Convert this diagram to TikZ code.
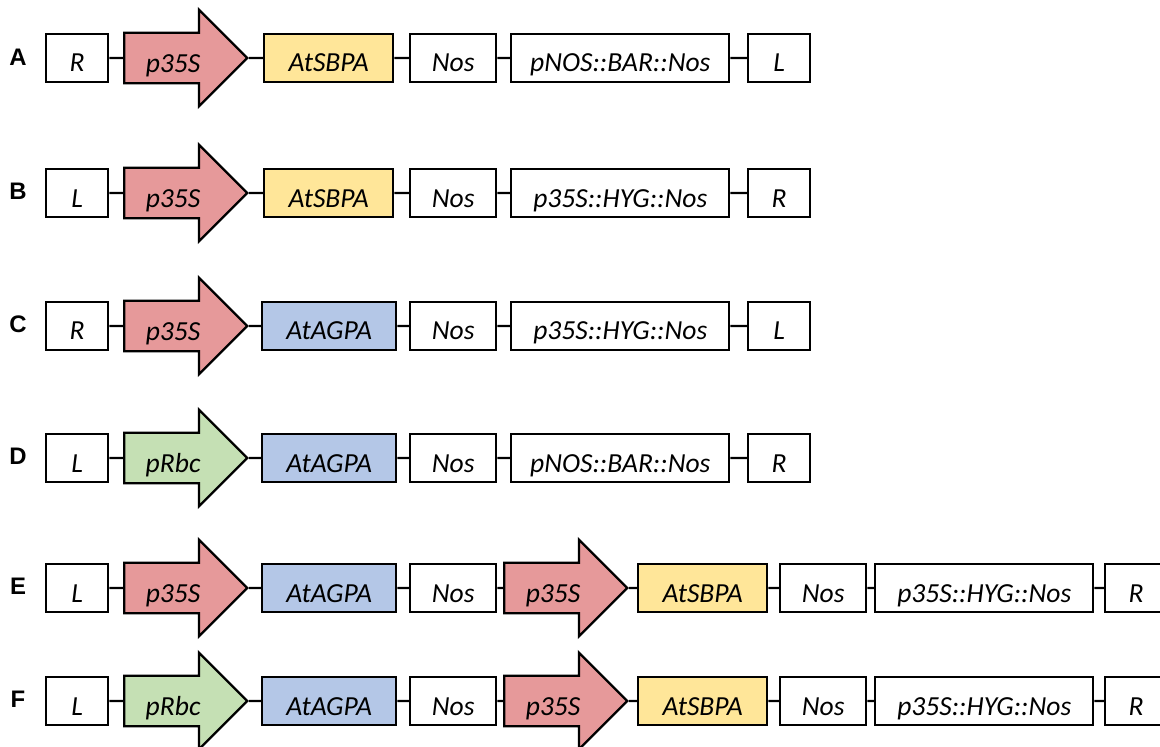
\documentclass[tikz,border=0pt]{standalone}
\usepackage{fontspec}
\setmainfont{Carlito}
\newfontfamily\tagfont{Liberation Sans}
\usetikzlibrary{shapes.arrows}
\definecolor{gnpink}{HTML}{E6999A}
\definecolor{gngreen}{HTML}{C5E0B4}
\definecolor{gnyellow}{HTML}{FFE699}
\definecolor{gnblue}{HTML}{B4C7E7}

\begin{document}
\begin{tikzpicture}[x=0.025cm, y=-0.025cm,
  part/.style={draw, line width=1.7pt, anchor=west, minimum height=1.2cm, inner sep=0pt,
               text height=0.95cm, text depth=0.25cm, font=\fontsize{19.6}{23}\selectfont\itshape},
  flank/.style={part, minimum width=1.55cm},
  term/.style={part, minimum width=2.15cm},
  sbpa/.style={part, fill=gnyellow, minimum width=3.225cm},
  agpa/.style={part, fill=gnblue, minimum width=3.35cm},
  cassette/.style={part, minimum width=5.45cm},
  promoter/.style={part, single arrow, single arrow head extend=0.575cm, single arrow tip angle=90,
                   minimum width=2.35cm, minimum height=3.075cm},
  tag/.style={font=\tagfont\bfseries\fontsize{17}{20}\selectfont},
  link/.style={line width=1.6pt}]
  \useasboundingbox (0,0) rectangle (1160,747);
  \clip (0,0) rectangle (1160,747);

  % A
  \node[tag] (tA) at (18,57) {A};
  \node[flank] (a1) at (45,58) {R};
  \node[promoter, fill=gnpink] (a2) at (123,58) {p35S};
  \node[sbpa] (a3) at (263,58) {AtSBPA};
  \node[term] (a4) at (409,58) {Nos};
  \node[cassette] (a5) at (510,58) {pNOS::BAR::Nos};
  \node[flank] (a6) at (747,58) {L};
  \draw[link] (a1.east) -- (a2.west) (a2.east) -- (a3.west) (a3.east) -- (a4.west)
              (a4.east) -- (a5.west) (a5.east) -- (a6.west);

  % B
  \node[tag] (tB) at (18,191) {B};
  \node[flank] (b1) at (45,193) {L};
  \node[promoter, fill=gnpink] (b2) at (123,193) {p35S};
  \node[sbpa] (b3) at (263,193) {AtSBPA};
  \node[term] (b4) at (409,193) {Nos};
  \node[cassette] (b5) at (510,193) {p35S::HYG::Nos};
  \node[flank] (b6) at (747,193) {R};
  \draw[link] (b1.east) -- (b2.west) (b2.east) -- (b3.west) (b3.east) -- (b4.west)
              (b4.east) -- (b5.west) (b5.east) -- (b6.west);

  % C
  \node[tag] (tC) at (18,324) {C};
  \node[flank] (c1) at (45,326) {R};
  \node[promoter, fill=gnpink] (c2) at (123,326) {p35S};
  \node[agpa] (c3) at (261,326) {AtAGPA};
  \node[term] (c4) at (409,326) {Nos};
  \node[cassette] (c5) at (510,326) {p35S::HYG::Nos};
  \node[flank] (c6) at (747,326) {L};
  \draw[link] (c1.east) -- (c2.west) (c2.east) -- (c3.west) (c3.east) -- (c4.west)
              (c4.east) -- (c5.west) (c5.east) -- (c6.west);

  % D
  \node[tag] (tD) at (18,456) {D};
  \node[flank] (d1) at (45,458) {L};
  \node[promoter, fill=gngreen] (d2) at (123,458) {pRbc};
  \node[agpa] (d3) at (261,458) {AtAGPA};
  \node[term] (d4) at (409,458) {Nos};
  \node[cassette] (d5) at (510,458) {pNOS::BAR::Nos};
  \node[flank] (d6) at (747,458) {R};
  \draw[link] (d1.east) -- (d2.west) (d2.east) -- (d3.west) (d3.east) -- (d4.west)
              (d4.east) -- (d5.west) (d5.east) -- (d6.west);

  % E
  \node[tag] (tE) at (18,586) {E};
  \node[flank] (e1) at (45,588) {L};
  \node[promoter, fill=gnpink] (e2) at (123,588) {p35S};
  \node[agpa] (e3) at (261,588) {AtAGPA};
  \node[term] (e4) at (409,588) {Nos};
  \node[promoter, fill=gnpink] (e5) at (503,588) {p35S};
  \node[sbpa] (e6) at (637,588) {AtSBPA};
  \node[term] (e7) at (779,588) {Nos};
  \node[cassette] (e8) at (874,588) {p35S::HYG::Nos};
  \node[flank] (e9) at (1104,588) {R};
  \draw[link] (e1.east) -- (e2.west) (e2.east) -- (e3.west) (e3.east) -- (e4.west)
              (e4.east) -- (e5.west) (e5.east) -- (e6.west) (e6.east) -- (e7.west)
              (e7.east) -- (e8.west) (e8.east) -- (e9.west);

  % F
  \node[tag] (tF) at (18,699) {F};
  \node[flank] (f1) at (45,701) {L};
  \node[promoter, fill=gngreen] (f2) at (123,701) {pRbc};
  \node[agpa] (f3) at (261,701) {AtAGPA};
  \node[term] (f4) at (409,701) {Nos};
  \node[promoter, fill=gnpink] (f5) at (503,701) {p35S};
  \node[sbpa] (f6) at (637,701) {AtSBPA};
  \node[term] (f7) at (779,701) {Nos};
  \node[cassette] (f8) at (874,701) {p35S::HYG::Nos};
  \node[flank] (f9) at (1104,701) {R};
  \draw[link] (f1.east) -- (f2.west) (f2.east) -- (f3.west) (f3.east) -- (f4.west)
              (f4.east) -- (f5.west) (f5.east) -- (f6.west) (f6.east) -- (f7.west)
              (f7.east) -- (f8.west) (f8.east) -- (f9.west);
\end{tikzpicture}
\end{document}
